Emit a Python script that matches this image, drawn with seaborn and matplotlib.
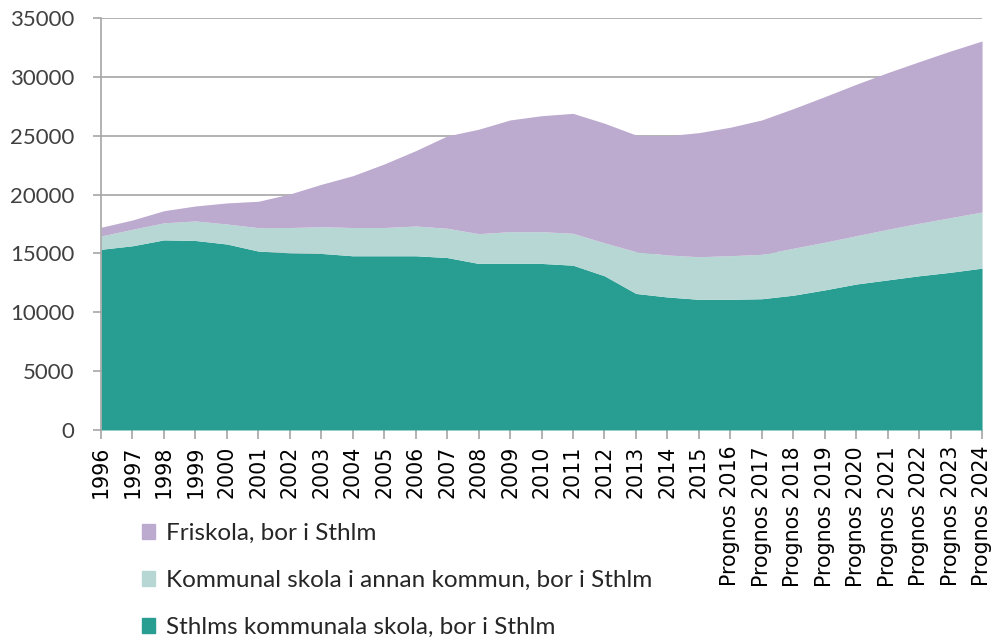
import matplotlib
matplotlib.use("Agg")
import matplotlib.pyplot as plt
import matplotlib.patches as mpatches
import seaborn as sns

# data
years = ["1996", "1997", "1998", "1999", "2000", "2001", "2002", "2003",
         "2004", "2005", "2006", "2007", "2008", "2009", "2010", "2011",
         "2012", "2013", "2014", "2015",
         "Prognos 2016", "Prognos 2017", "Prognos 2018", "Prognos 2019",
         "Prognos 2020", "Prognos 2021", "Prognos 2022", "Prognos 2023",
         "Prognos 2024"]

# cumulative tops
sthlm_top = [15350, 15650, 16150, 16100, 15800, 15200, 15050, 15000,
             14800, 14800, 14800, 14650, 14150, 14150, 14150, 14000,
             13100, 11600, 11300, 11100, 11100, 11150, 11450, 11900,
             12400, 12750, 13100, 13400, 13750]
annan_top = [16480, 17050, 17600, 17760, 17500, 17190, 17200, 17270,
             17200, 17200, 17330, 17140, 16680, 16850, 16850, 16710,
             15900, 15150, 14870, 14720, 14810, 14920, 15440, 15950,
             16500, 17050, 17560, 18040, 18520]
fri_top = [17220, 17840, 18630, 19030, 19290, 19430, 20050, 20870,
           21600, 22600, 23730, 24980, 25550, 26340, 26700, 26900,
           26060, 25060, 25000, 25260, 25720, 26340, 27300, 28320,
           29370, 30360, 31290, 32200, 33050]

sthlm = sthlm_top
annan = [a - s for a, s in zip(annan_top, sthlm_top)]
fri = [f - a for f, a in zip(fri_top, annan_top)]

labels = ["Sthlms kommunala skola, bor i Sthlm",
          "Kommunal skola i annan kommun, bor i Sthlm",
          "Friskola, bor i Sthlm"]
colors = ["#289e93", "#b7d7d5", "#bcaacf"]

sns.set_style("white")
plt.rcParams["font.family"] = ["Lato", "DejaVu Sans"]

fig = plt.figure(figsize=(9.96, 6.41), dpi=100)
ax = fig.add_axes([0.1014, 0.3292, 0.8846, 0.6427])

ax.yaxis.grid(True, color="#a6a6a6", linewidth=1.2)
ax.set_axisbelow(True)
x = list(range(len(years)))
ax.stackplot(x, sthlm, annan, fri, colors=colors, linewidth=0)

ax.set_xlim(0, len(years) - 1)
ax.set_ylim(0, 35000)
ax.set_yticks(range(0, 35001, 5000))
ax.set_xticks(x)
ax.set_xticklabels(years, rotation=90, fontsize=14.8,
                   family=["DejaVu Sans"], color="black")
ax.tick_params(axis="y", labelsize=16, colors="#a6a6a6", labelcolor="#404040",
               length=6, width=1.2, direction="out", left=True, pad=13)
ax.tick_params(axis="x", colors="#a6a6a6", labelcolor="black",
               length=6.5, width=1.2, direction="out", bottom=True, pad=5)

for side in ["top", "right", "bottom"]:
    ax.spines[side].set_visible(False)
ax.spines["left"].set_color("#a6a6a6")
ax.spines["left"].set_linewidth(1.2)

handles = [mpatches.Patch(color=c, label=l) for c, l in zip(colors, labels)]
handles = handles[::-1]
fig.legend(handles=handles, loc="upper left", bbox_to_anchor=(0.135, 0.195),
           frameon=False, fontsize=17.5, handlelength=0.55, handleheight=0.55,
           handletextpad=0.45, labelspacing=1.07, labelcolor="#262626",
           borderaxespad=0, borderpad=0.3)

fig.savefig("out.png", dpi=100)
